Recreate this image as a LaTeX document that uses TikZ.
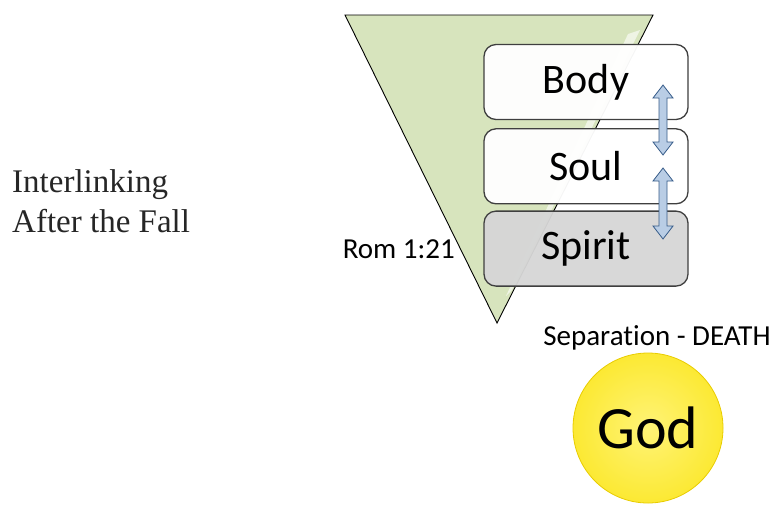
\documentclass[tikz,border=0pt]{standalone}
\usepackage{fontspec}
\setmainfont{Carlito}[Ligatures=NoCommon]
\newfontfamily\serifface{Liberation Serif}
\usetikzlibrary{positioning}
\definecolor{wedgegreen}{HTML}{D7E4BD}
\definecolor{boxline}{HTML}{3F3F3F}
\definecolor{spiritgray}{HTML}{D6D6D6}
\definecolor{linkblue}{HTML}{B9CDE5}
\definecolor{linkline}{HTML}{385D8A}
\definecolor{godyellow}{HTML}{FFEE3C}
\definecolor{godedge}{HTML}{E8CC00}
\definecolor{titlegray}{HTML}{262626}
\begin{document}
\begin{tikzpicture}[x=1pt,y=-1pt,
  partbox/.style={draw=boxline, line width=1.3pt, rounded corners=12pt,
    minimum width=204pt, minimum height=75pt, inner sep=0pt,
    font=\fontsize{42}{42}\selectfont, fill opacity=0.96, text opacity=1},
  label/.style={font=\fontsize{29}{29}\selectfont, inner sep=0pt}]
\useasboundingbox (0,0) rectangle (775,504);
%title
\node[anchor=north west, align=left, inner sep=0pt, text=titlegray,
  font=\serifface\fontsize{33}{40}\selectfont] (title) at (12,169)
  {Interlinking\\After the Fall};
%wedge
\filldraw[fill=wedgegreen, draw=black, line width=0.9pt]
  (345,15) -- (653,15) -- (497,323) -- cycle;
\fill[white, opacity=0.6] (628,34) -- (640,30) -- (512,290) -- (506,296) -- cycle;
%parts
\node[partbox, fill=white] (body) at (586,82) {Body};
\node[partbox, fill=white, below=8pt of body] (soul) {Soul};
\node[partbox, fill=spiritgray, below=6pt of soul] (spirit) {Spirit};
\node[label, anchor=base east] (rom) at (455,258) {Rom 1:21};
%links
\foreach \ty/\by in {85/155,168/239}{
  \filldraw[fill=linkblue, draw=linkline, line width=0.8pt]
    (663,\ty) -- (673,\ty+13) -- (667,\ty+13) -- (667,\by-13) -- (673,\by-13)
    -- (663,\by) -- (653,\by-13) -- (659,\by-13) -- (659,\ty+13)
    -- (653,\ty+13) -- cycle;
}
%god
\node[label, anchor=base] (sep) at (657,345) {Separation - DEATH};
\node[circle, minimum size=150pt, inner sep=0pt, draw=godedge, line width=0.8pt,
  inner color=godyellow!70!white, outer color=godyellow!85!godedge,
  font=\fontsize{60}{60}\selectfont] (god) at (648,428) {God};
\end{tikzpicture}
\end{document}
